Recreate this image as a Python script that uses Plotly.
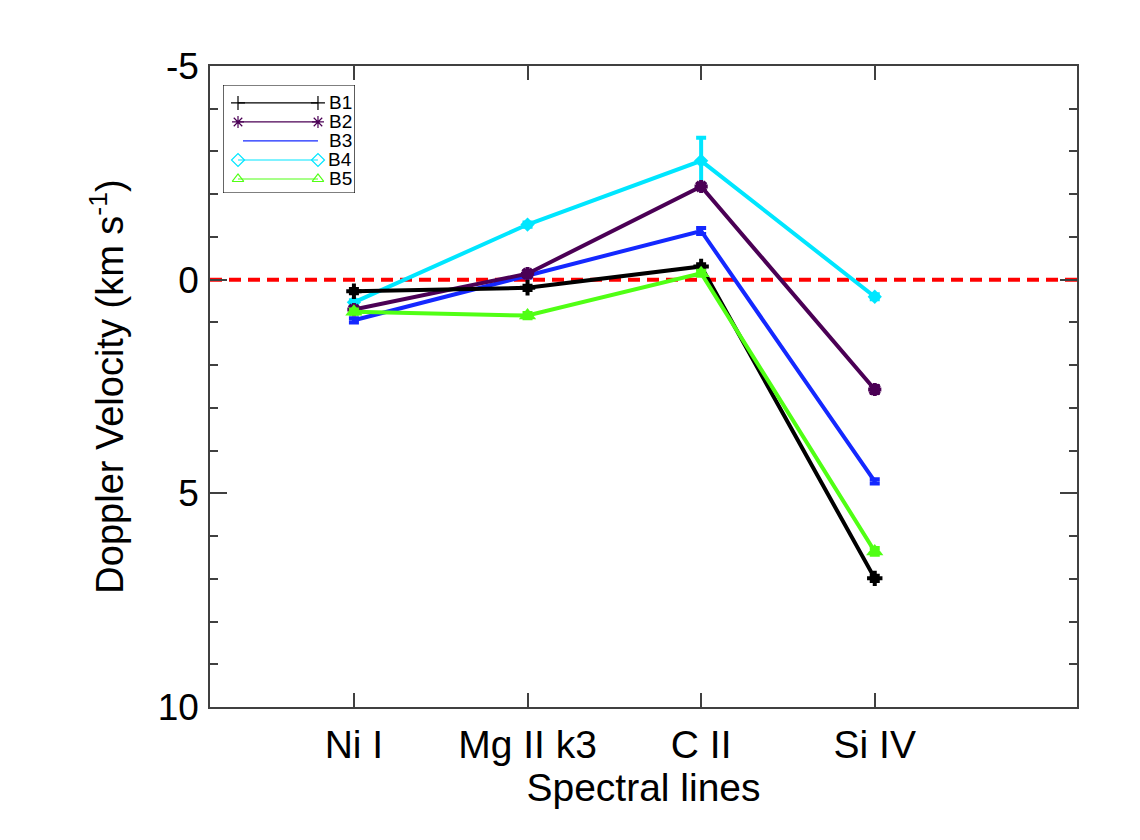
import plotly.graph_objects as go

categories = ["Ni I", "Mg II k3", "C II", "Si IV"]
xpos = [1, 2, 3, 4]

series_names = ["B1", "B2", "B3", "B4", "B5"]
b1 = [0.27, 0.19, -0.31, 6.99]
b2 = [0.70, -0.14, -2.18, 2.57]
b3 = [0.95, -0.10, -1.14, 4.72]
b4 = [0.53, -1.29, -2.78, 0.40]
b5 = [0.75, 0.84, -0.15, 6.36]

e1 = [0.05, 0.05, 0.05, 0.06]
e2 = [0.05, 0.06, 0.06, 0.08]
e3 = [0.05, 0.05, 0.07, 0.05]
e4 = [0.05, 0.05, 0.54, 0.06]
e5 = [0.05, 0.06, 0.06, 0.08]

colors = ["#000000", "#4b0055", "#1428ff", "#00e6ff", "#50ff14"]
values = [b1, b2, b3, b4, b5]
errors = [e1, e2, e3, e4, e5]
plot_symbols = ["cross-thin-open", "asterisk-open", None, "diamond", "triangle-up"]
legend_symbols = ["cross-thin-open", "asterisk-open", None, "diamond-open", "triangle-up-open"]

ytick_vals = [-5, 0, 5, 10]
ytick_text = ["-5", "0", "5", "10"]

FONT = "Liberation Sans, Arial, Helvetica, sans-serif"

fig = go.Figure()

draw_order = [2, 3, 1, 0, 4]
for i in draw_order:
    sym = plot_symbols[i]
    marker = dict(color=colors[i], size=0.1) if sym is None else dict(
        symbol=sym, size=11 if i != 4 else 15, color=colors[i],
        line=dict(color=colors[i], width=4 if "open" in sym else 0))
    fig.add_trace(go.Scatter(
        x=xpos, y=values[i], mode="lines+markers" if sym else "lines",
        line=dict(color=colors[i], width=4),
        marker=marker,
        error_y=dict(type="data", array=errors[i], visible=True,
                     color=colors[i], thickness=4, width=5),
        showlegend=False, cliponaxis=False, hoverinfo="skip"))

# legend samples on an overlay axis (legend box decoration)
rows = [18, 37, 56, 75, 94]
for i, name in enumerate(series_names):
    sym = legend_symbols[i]
    xs = [15, 95] if sym else [20, 95]
    fig.add_trace(go.Scatter(
        x=xs, y=[rows[i], rows[i]], xaxis="x2", yaxis="y2",
        mode="lines+markers" if sym else "lines",
        line=dict(color=colors[i], width=1.2),
        marker=dict(symbol=sym, size=10, color=colors[i],
                    line=dict(color=colors[i], width=1.2)) if sym else None,
        showlegend=False, hoverinfo="skip", cliponaxis=False))
    fig.add_annotation(x=130, y=rows[i], xref="x2", yref="y2", text=name,
                       showarrow=False, xanchor="right", yanchor="middle",
                       borderpad=0,
                       font=dict(family=FONT, size=19, color="black"))

fig.add_shape(type="rect", xref="x2", yref="y2", x0=0, x1=132, y0=0, y1=108,
              line=dict(color="black", width=1.2), fillcolor="white", layer="below")

# zero reference line
fig.add_shape(type="line", xref="paper", yref="y", x0=0, x1=1, y0=0, y1=0,
              line=dict(color="#ff0000", width=4, dash="12px,7px"), layer="below")

axis_line = "#404040"
fig.update_layout(
    width=1140, height=840,
    margin=dict(l=210, r=63, t=66, b=133),
    paper_bgcolor="white", plot_bgcolor="white",
    font=dict(family=FONT, color="black"),
    xaxis=dict(
        range=[0.171, 5.165], tickvals=xpos, ticktext=categories,
        ticks="inside", ticklen=14, tickwidth=1.5, tickcolor=axis_line,
        showline=True, linecolor=axis_line, linewidth=1.5, mirror="ticks",
        showgrid=False, zeroline=False,
        tickfont=dict(family=FONT, size=39, color="black"),
        ticklabelstandoff=2,
        title=dict(text="Spectral lines", font=dict(family=FONT, size=39, color="black"),
                   standoff=0),
    ),
    yaxis=dict(
        range=[10, -5], tickvals=ytick_vals, ticktext=ytick_text,
        ticks="inside", ticklen=17, tickwidth=1.5, tickcolor=axis_line,
        minor=dict(ticks="inside", ticklen=8, dtick=1, tickwidth=1.5, tickcolor=axis_line),
        showline=True, linecolor=axis_line, linewidth=1.5, mirror="ticks",
        showgrid=False, zeroline=False,
        tickfont=dict(family=FONT, size=37, color="black"),
        ticklabelstandoff=2,
        title=dict(text="Doppler Velocity (km s<sup>-1</sup>)",
                   font=dict(family=FONT, size=38, color="black"), standoff=22),
    ),
    xaxis2=dict(domain=[0.015, 0.1672], range=[0, 132], visible=False,
                anchor="y2", fixedrange=True),
    yaxis2=dict(domain=[0.8019, 0.9704], range=[108, 0], visible=False,
                anchor="x2", fixedrange=True),
)

fig.write_html("out.html")
